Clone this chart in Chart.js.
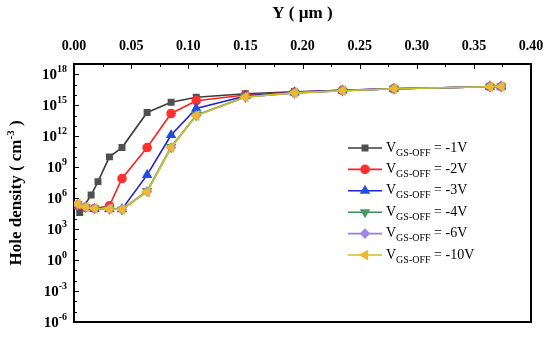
<!DOCTYPE html>
<html lang="en">
<head>
  <meta charset="UTF-8" />
  <title>Hole density vs Y</title>
  <script src="https://cdn.jsdelivr.net/npm/chart.js"></script>
  <style>
    html, body { margin: 0; padding: 0; background: #fff; }
    #wrap { width: 550px; height: 337px; position: relative; }
  </style>
</head>
<body>
  <div id="wrap"><canvas id="grafico"></canvas></div>

  <script>
    // positions along Y (um)
    const xFirst = [0.005, 0.015, 0.021, 0.031, 0.042, 0.064, 0.085, 0.107, 0.150, 0.193, 0.235, 0.280, 0.364, 0.374];
    const xOthers = [0.003, 0.010, 0.018, 0.031, 0.042, 0.064, 0.085, 0.107, 0.150, 0.193, 0.235, 0.280, 0.364, 0.374];

    // hole density (cm^-3)
    const v1 = [4e4, 2e6, 4e7, 1e10, 8e10, 2e14, 2e15, 6e15, 1.3e16, 2e16, 2.8e16, 4e16, 6.3e16, 6.5e16];
    const v2 = [2e5, 1.3e5, 1e5, 1.8e5, 8e7, 8e10, 1.6e14, 2.8e15, 1e16, 1.8e16, 2.8e16, 4e16, 6.3e16, 6.5e16];
    const v3 = [2.2e5, 1.3e5, 9e4, 9e4, 8.5e4, 1.8e8, 1.3e12, 5e14, 8e15, 1.8e16, 2.8e16, 4e16, 6.3e16, 6.5e16];
    const v4 = [2.5e5, 1.4e5, 1e5, 9e4, 8e4, 5e6, 9e10, 1.1e14, 6.5e15, 1.6e16, 2.6e16, 4e16, 6.3e16, 6.5e16];
    const v6 = [2.5e5, 1.4e5, 1e5, 9e4, 8e4, 4.5e6, 8e10, 1e14, 6.3e15, 1.6e16, 2.6e16, 4e16, 6.3e16, 6.5e16];
    const v10 = [2.8e5, 1.4e5, 1e5, 9e4, 8e4, 4e6, 8e10, 1e14, 6.3e15, 1.6e16, 2.6e16, 4e16, 6.3e16, 6.5e16];

    const etiquetas = ['-1V', '-2V', '-3V', '-4V', '-6V', '-10V'];
    const xTicks = [0, 0.05, 0.10, 0.15, 0.20, 0.25, 0.30, 0.35, 0.40];
    const yExps = [18, 15, 12, 9, 6, 3, 0, -3, -6];

    const estilos = [
      { line: '#3c3c3c', fill: '#505050', shape: 'rect', rot: 0, r: 3.8 },
      { line: '#ff2020', fill: '#ff3030', shape: 'circle', rot: 0, r: 4 },
      { line: '#2020d8', fill: '#2050e0', shape: 'triangle', rot: 0, r: 4.5 },
      { line: '#3c8c5a', fill: '#4a9a64', shape: 'triangle', rot: 180, r: 4.5 },
      { line: '#9a7ae0', fill: '#a088e6', shape: 'rectRot', rot: 0, r: 4.2 },
      { line: '#c8c41e', fill: '#f0b830', shape: 'triangle', rot: 270, r: 4.8 }
    ];

    const series = [v1, v2, v3, v4, v6, v10];
    const pts = (xs, ys) => xs.map((x, i) => ({ x: x, y: ys[i] }));

    const datasets = series.map((s, i) => ({
      label: 'VGS-OFF = ' + etiquetas[i],
      data: pts(i === 0 ? xFirst : xOthers, s),
      borderColor: estilos[i].line,
      backgroundColor: estilos[i].fill,
      pointBackgroundColor: estilos[i].fill,
      pointBorderColor: estilos[i].fill,
      pointStyle: estilos[i].shape,
      rotation: estilos[i].rot,
      pointRadius: estilos[i].r,
      borderWidth: 1.6,
      order: 5 - i,
      tension: 0
    }));

    const serif = '"Liberation Serif", "Times New Roman", serif';

    // ejes, marco, textos y leyenda
    const decorado = {
      id: 'decorado',
      beforeDatasetsDraw(chart) {
        const { ctx, chartArea: a, scales } = chart;
        const sx = scales.x, sy = scales.y;
        ctx.save();
        ctx.strokeStyle = '#000';
        ctx.lineWidth = 1;
        // top ticks (inward)
        for (let k = 0; k <= 16; k++) {
          const px = Math.round(sx.getPixelForValue(k * 0.025)) + 0.5;
          const len = k % 2 === 0 ? 5 : 3;
          ctx.beginPath(); ctx.moveTo(px, a.top); ctx.lineTo(px, a.top + len); ctx.stroke();
        }
        // left ticks (inward)
        for (let e = -6; e <= 18; e++) {
          const py = Math.round(sy.getPixelForValue(Math.pow(10, e))) + 0.5;
          const len = (e % 3 === 0) ? 5 : 3;
          ctx.beginPath(); ctx.moveTo(a.left, py); ctx.lineTo(a.left + len, py); ctx.stroke();
        }
        ctx.lineWidth = 2;
        ctx.strokeRect(a.left, a.top, a.right - a.left, a.bottom - a.top);
        ctx.restore();
      },
      afterDraw(chart) {
        const { ctx, chartArea: a, scales } = chart;
        const sx = scales.x, sy = scales.y;
        ctx.save();
        ctx.fillStyle = '#000';

        // x tick labels
        ctx.font = 'bold 14px ' + serif;
        ctx.textAlign = 'center';
        ctx.textBaseline = 'middle';
        xTicks.forEach(v => ctx.fillText(v.toFixed(2), sx.getPixelForValue(v), 46));

        // x title
        ctx.font = 'bold 17px ' + serif;
        ctx.fillText('Y ( \u00b5m )', (a.left + a.right) / 2, 14);

        // y tick labels 10^n
        yExps.forEach(e => {
          const py = sy.getPixelForValue(Math.pow(10, e));
          const sup = String(e);
          ctx.font = 'bold 10px ' + serif;
          const wSup = ctx.measureText(sup).width;
          ctx.font = 'bold 15px ' + serif;
          const wBase = ctx.measureText('10').width;
          const right = a.left - 7;
          ctx.textAlign = 'left';
          ctx.textBaseline = 'middle';
          ctx.fillText('10', right - wSup - wBase, py + 1);
          ctx.font = 'bold 10px ' + serif;
          ctx.fillText(sup, right - wSup, py - 5);
        });

        // y title (rotated)
        ctx.save();
        ctx.translate(17, (a.top + a.bottom) / 2);
        ctx.rotate(-Math.PI / 2);
        const p1 = 'Hole density ( cm', p2 = '-3', p3 = ' )';
        ctx.font = 'bold 17px ' + serif;
        const w1 = ctx.measureText(p1).width, w3 = ctx.measureText(p3).width;
        ctx.font = 'bold 11px ' + serif;
        const w2 = ctx.measureText(p2).width;
        let x0 = -(w1 + w2 + w3) / 2;
        ctx.textAlign = 'left';
        ctx.textBaseline = 'middle';
        ctx.font = 'bold 17px ' + serif;
        ctx.fillText(p1, x0, 0);
        ctx.font = 'bold 11px ' + serif;
        ctx.fillText(p2, x0 + w1, -6);
        ctx.font = 'bold 17px ' + serif;
        ctx.fillText(p3, x0 + w1 + w2, 0);
        ctx.restore();

        // legend
        const lx0 = 348, lx1 = 382, ly0 = 148, dy = 21.4;
        etiquetas.forEach((t, i) => {
          const y = ly0 + i * dy;
          const st = estilos[i];
          ctx.strokeStyle = st.line;
          ctx.lineWidth = 1.6;
          ctx.beginPath(); ctx.moveTo(lx0, y); ctx.lineTo(lx1, y); ctx.stroke();
          ctx.fillStyle = st.fill;
          ctx.strokeStyle = st.fill;
          Chart.helpers.drawPoint(ctx, {
            pointStyle: st.shape, rotation: st.rot,
            radius: st.r, borderWidth: 1
          }, (lx0 + lx1) / 2, y);
          ctx.fillStyle = '#000';
          ctx.textAlign = 'left';
          ctx.textBaseline = 'middle';
          let tx = 386;
          ctx.font = '14px ' + serif;
          ctx.fillText('V', tx, y);
          tx += ctx.measureText('V').width;
          ctx.font = '10px ' + serif;
          ctx.fillText('GS-OFF', tx, y + 5);
          tx += ctx.measureText('GS-OFF').width;
          ctx.font = '14px ' + serif;
          ctx.fillText(' = ' + t, tx, y);
        });
        ctx.restore();
      }
    };

    new Chart(document.getElementById('grafico'), {
      type: 'line',
      data: { datasets: datasets },
      options: {
        responsive: true,
        maintainAspectRatio: false,
        animation: false,
        layout: { padding: { left: 74, top: 64, right: 19, bottom: 15 } },
        plugins: {
          legend: { display: false },
          tooltip: { enabled: false }
        },
        scales: {
          x: { type: 'linear', position: 'top', min: 0, max: 0.4, display: false },
          y: { type: 'logarithmic', min: 1e-6, max: 1e19, display: false }
        }
      },
      plugins: [decorado]
    });
  </script>
</body>
</html>
